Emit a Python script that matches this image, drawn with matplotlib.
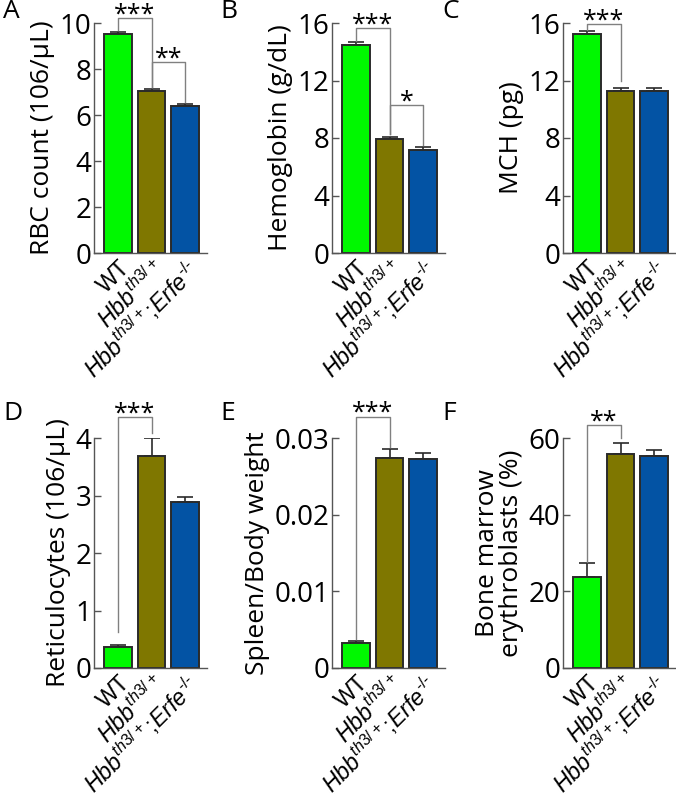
import numpy as np
import matplotlib
matplotlib.use('Agg')
import matplotlib.pyplot as plt

plt.rcParams['font.family'] = ['Open Sans', 'DejaVu Sans']
plt.rcParams['mathtext.fontset'] = 'custom'
plt.rcParams['mathtext.rm'] = 'Liberation Sans'
plt.rcParams['mathtext.it'] = 'Liberation Sans:italic'

HY = '\u2010'  # plain hyphen, mathtext would turn "-" into a minus sign
groups = ['WT', r'$\mathit{Hbb^{th3/+}}$',
          r'$\mathit{Hbb^{th3/+}}$;$\mathit{Erfe^{' + HY + '/' + HY + '}}$']
colors = ['#00f800', '#7f7700', '#0353a4']

# means and SEM for each panel
rbc = [9.52, 7.05, 6.4]
rbc_err = [0.1, 0.1, 0.1]
hgb = [14.5, 7.9, 7.2]
hgb_err = [0.2, 0.2, 0.15]
mch = [15.25, 11.3, 11.3]
mch_err = [0.2, 0.2, 0.15]
retic = [0.37, 3.68, 2.88]
retic_err = [0.03, 0.32, 0.09]
spleen = [0.0032, 0.0274, 0.0273]
spleen_err = [0.0003, 0.0012, 0.0008]
eryth = [23.8, 55.8, 55.2]
eryth_err = [3.5, 2.8, 1.7]

panels = [
    dict(letter='A', vals=rbc, err=rbc_err, ylabel='RBC count (106/\u03bcL)',
         ymax=10, ticks=[0, 2, 4, 6, 8, 10], ticklabels=None,
         sig=[(0, 1, 9.68, 10.2, 7.2, '***'), (1, 2, 7.2, 8.3, 6.55, '**')]),
    dict(letter='B', vals=hgb, err=hgb_err, ylabel='Hemoglobin (g/dL)',
         ymax=16, ticks=[0, 4, 8, 12, 16], ticklabels=None,
         sig=[(0, 1, 14.75, 15.65, 8.3, '***'), (1, 2, 8.3, 10.3, 7.5, '*')]),
    dict(letter='C', vals=mch, err=mch_err, ylabel='MCH (pg)',
         ymax=16, ticks=[0, 4, 8, 12, 16], ticklabels=None,
         sig=[(0, 1, 15.5, 15.9, 12.0, '***')]),
    dict(letter='D', vals=retic, err=retic_err, ylabel='Reticulocytes (106/\u03bcL)',
         ymax=4, ticks=[0, 1, 2, 3, 4], ticklabels=None,
         sig=[(0, 1, 0.62, 4.37, 4.08, '***')]),
    dict(letter='E', vals=spleen, err=spleen_err, ylabel='Spleen/Body weight',
         ymax=0.03, ticks=[0, 0.01, 0.02, 0.03], ticklabels=['0', '0.01', '0.02', '0.03'],
         sig=[(0, 1, 0.0038, 0.0328, 0.0288, '***')]),
    dict(letter='F', vals=eryth, err=eryth_err, ylabel='Bone marrow\nerythroblasts (%)',
         ymax=60, ticks=[0, 20, 40, 60], ticklabels=None,
         sig=[(0, 1, 27.6, 63.4, 60.0, '**')]),
]

W, H = 676, 795
fig = plt.figure(figsize=(W / 100, H / 100), dpi=100)

lefts = [94, 332, 563]
tops = [23, 438]
aw, ah = 113, 230
letter_x = [3, 220, 442]
letter_y = [12, 413]

for i, p in enumerate(panels):
    r, c = divmod(i, 3)
    ax = fig.add_axes([lefts[c] / W, 1 - (tops[r] + ah) / H, aw / W, ah / H])
    x = np.arange(3)
    ax.bar(x, p['vals'], width=0.82, color=colors, edgecolor='#2a2a2a', linewidth=1.4, zorder=2)
    ax.errorbar(x, p['vals'], yerr=[np.zeros(3), p['err']], fmt='none', ecolor='#2a2a2a',
                elinewidth=1.2, capsize=6, capthick=1.2, zorder=1)
    ax.set_xlim(-0.72, 2.65)
    ax.set_ylim(0, p['ymax'])
    ax.set_yticks(p['ticks'])
    if p['ticklabels']:
        ax.set_yticklabels(p['ticklabels'])
    ax.set_xticks(x)
    ax.set_xticklabels(groups, rotation=45, ha='right', va='top', rotation_mode='anchor',
                       fontsize=16.5, family='Liberation Sans')
    ax.tick_params(axis='x', length=0, pad=2)
    ax.tick_params(axis='y', direction='in', length=5, width=1, color='#555555', labelsize=20, pad=2)
    for s in ['top', 'right']:
        ax.spines[s].set_visible(False)
    for s in ['left', 'bottom']:
        ax.spines[s].set_color('#555555')
        ax.spines[s].set_linewidth(1)
    ax.set_ylabel(p['ylabel'], fontsize=19, labelpad=3, linespacing=0.95)

    for (a, b, ya, yh, yb, stars) in p['sig']:
        ax.plot([a, a, b, b], [ya, yh, yh, yb], color='#808080', lw=1, clip_on=False, zorder=3)
        ax.annotate(stars, xy=((a + b) / 2, yh), xytext=(0, -2.5), textcoords='offset points',
                    ha='center', va='baseline', fontsize=18, annotation_clip=False)

    fig.text(letter_x[c] / W, 1 - letter_y[r] / H, p['letter'], fontsize=19,
             ha='left', va='center')

fig.savefig('out.png', dpi=100)
